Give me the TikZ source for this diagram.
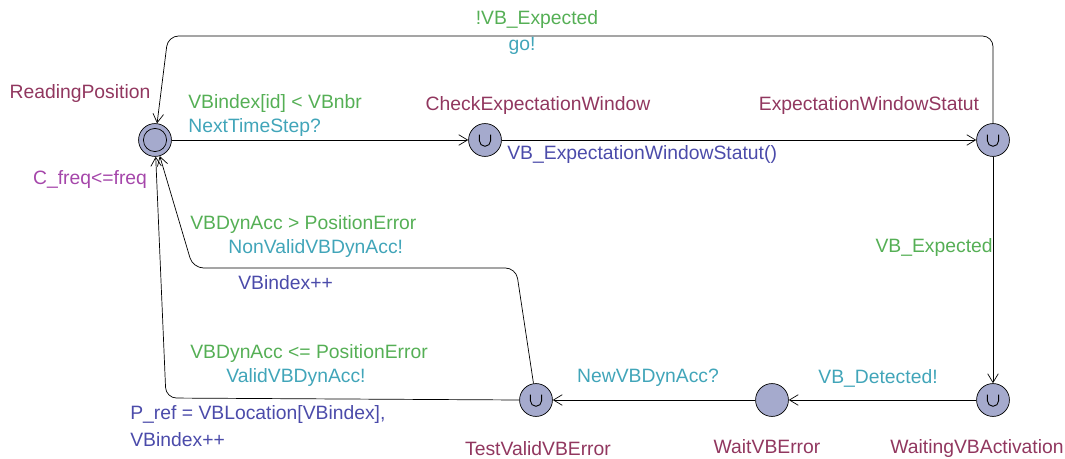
\documentclass[tikz,border=0pt]{standalone}
\usepackage{fontspec}
\setmainfont{Liberation Sans}
\usetikzlibrary{arrows.meta}

\definecolor{locname}{RGB}{145,55,95}
\definecolor{invcol}{RGB}{165,70,170}
\definecolor{guardcol}{RGB}{85,175,85}
\definecolor{synccol}{RGB}{65,165,185}
\definecolor{updcol}{RGB}{75,75,170}
\definecolor{locfill}{RGB}{165,170,205}

\tikzset{
  loc/.style={circle, draw, fill=locfill, minimum size=18.7pt, inner sep=0pt},
  urgent/.style={loc, path picture={
      \draw[line width=0.5pt] ([xshift=-3.2pt,yshift=3pt]path picture bounding box.center)
        -- ++(0,-3.4pt) arc[start angle=180,end angle=360,radius=3.2pt] -- ++(0,3.4pt);}},
  initloc/.style={loc, path picture={
      \draw (path picture bounding box.center) circle (6.6pt);}},
  edge/.style={draw, -{Straight Barb[length=5pt,width=6pt]}, rounded corners=6pt},
  lbl/.style={font=\fontsize{11}{13}\selectfont, inner sep=0pt},
  lname/.style={lbl, text=locname},
  inv/.style={lbl, text=invcol},
  guard/.style={lbl, text=guardcol, anchor=west},
  sync/.style={lbl, text=synccol, anchor=west},
  upd/.style={lbl, text=updcol, anchor=west}
}

\begin{document}
\begin{tikzpicture}[x=0.02cm, y=-0.02cm]
  \useasboundingbox (0,0) rectangle (1065,459);

  % Locations
  \node[initloc] (rp) at (155,140) {};
  \node[urgent] (cew) at (485,140) {};
  \node[urgent] (ews) at (993,140) {};
  \node[urgent] (wva) at (993,400) {};
  \node[loc] (wve) at (772,400) {};
  \node[urgent] (tve) at (536,400) {};

  % Location names and invariant
  \node[lname] (rpname) at (80,94) {ReadingPosition};
  \node[inv] (rpinv) at (90,180) {C\_freq<=freq};
  \node[lname] (cewname) at (538,106) {CheckExpectationWindow};
  \node[lname] (ewsname) at (869,106) {ExpectationWindowStatut};
  \node[lname] (wvaname) at (977,449) {WaitingVBActivation};
  \node[lname] (wvename) at (767,447) {WaitVBError};
  \node[lname] (tvename) at (538,449) {TestValidVBError};

  % Corners of the bent edges
  \coordinate (topr) at (993,36);
  \coordinate (topl) at (168,36);
  \coordinate (midr) at (516,268);
  \coordinate (midl) at (193,268);
  \coordinate (botl) at (166,398);

  % Edges
  \draw[edge] (rp) -- (cew);
  \draw[edge] (cew) -- (ews);
  \draw[edge] (ews) -- (wva);
  \draw[edge] (wva) -- (wve);
  \draw[edge] (wve) -- (tve);
  \draw[edge] (ews.north) -- (topr) -- (topl) -- (rp);
  \draw[edge] (tve) -- (midr) -- (midl) -- (rp);
  \draw[edge] (tve.west) -- (botl) -- (rp);

  % Edge labels
  \node[lbl, text=guardcol] (g1) at (537,20) {!VB\_Expected};
  \node[lbl, text=synccol] (s1) at (522,46) {go!};
  \node[guard] (g2) at (188,104) {VBindex[id] < VBnbr};
  \node[sync] (s2) at (188,128) {NextTimeStep?};
  \node[upd] (u3) at (507,155) {VB\_ExpectationWindowStatut()};
  \node[lbl, text=guardcol, anchor=east] (g4) at (993,248) {VB\_Expected};
  \node[lbl, text=synccol] (s5) at (878,378) {VB\_Detected!};
  \node[lbl, text=synccol] (s6) at (648,378) {NewVBDynAcc?};
  \node[guard] (g7) at (190,225) {VBDynAcc > PositionError};
  \node[sync] (s7) at (228,249) {NonValidVBDynAcc!};
  \node[upd] (u7) at (238,283) {VBindex++};
  \node[guard] (g8) at (190,354) {VBDynAcc <= PositionError};
  \node[sync] (s8) at (226,378) {ValidVBDynAcc!};
  \node[upd] (u8a) at (130,415) {P\_ref = VBLocation[VBindex],};
  \node[upd] (u8b) at (130,440) {VBindex++};
\end{tikzpicture}
\end{document}
